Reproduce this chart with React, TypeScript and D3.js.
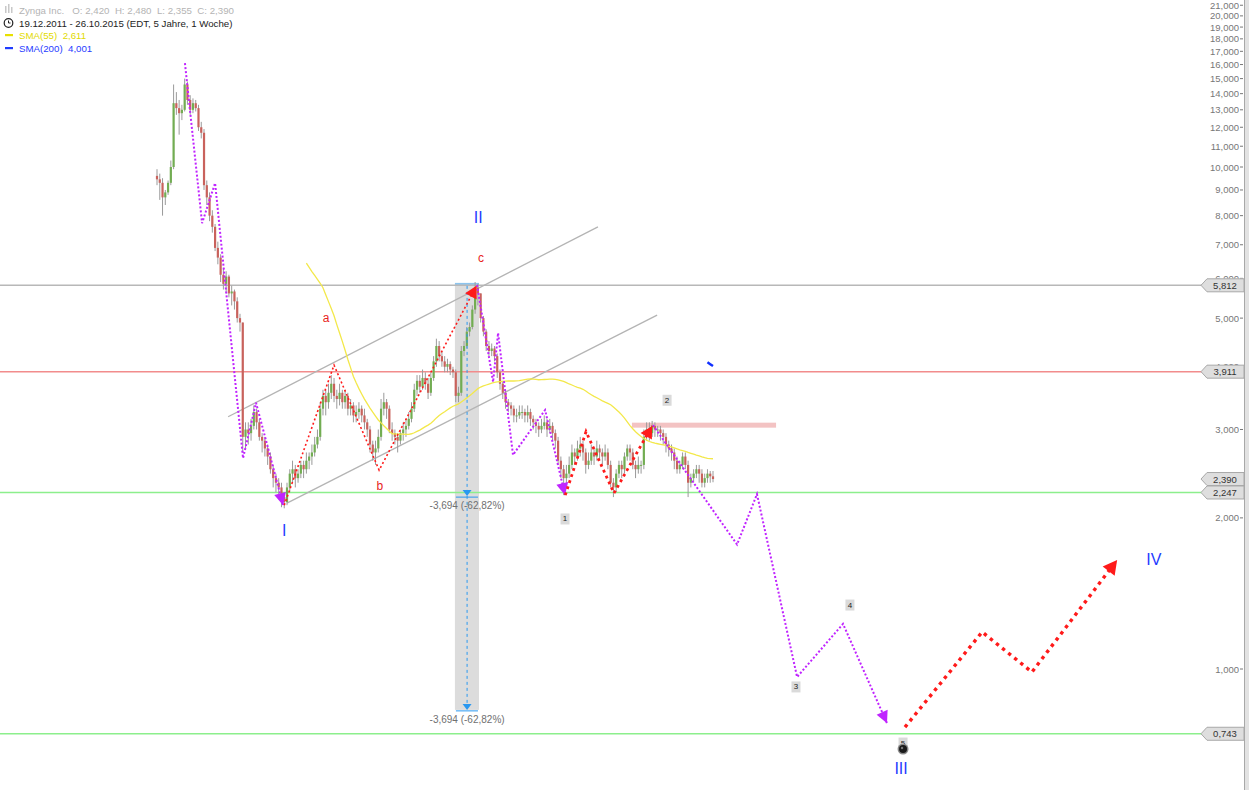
import React from "react";
import * as d3 from "d3";

// weekly candles [high, low, close]; open = previous close
const firstOpen = 9.6;
const candles2012: number[][] = [
  [9.9, 9.2, 9.45], [9.7, 8.6, 9.3], [9.5, 8.0, 8.7], [9.0, 8.4, 8.9], [9.4, 8.8, 9.3],
  [10.3, 9.2, 10.0], [14.6, 9.9, 13.4], [14.1, 12.7, 13.1], [13.6, 11.6, 12.8], [13.3, 12.4, 13.0],
  [15.0, 12.9, 14.6], [14.8, 13.3, 13.6], [13.9, 12.7, 13.0], [13.7, 12.8, 13.4], [13.6, 12.9, 13.1],
  [13.3, 11.8, 12.0], [12.3, 11.4, 11.7], [11.9, 9.0, 9.2], [9.4, 8.4, 8.7], [8.9, 7.8, 8.0],
  [8.2, 7.4, 7.6], [7.7, 6.8, 6.9], [7.1, 6.4, 6.6], [6.7, 5.9, 6.1], [6.3, 5.7, 5.85],
  [6.2, 5.6, 6.05], [6.1, 5.5, 5.6], [5.8, 5.3, 5.65], [5.7, 5.2, 5.4], [5.5, 4.9, 5.0],
  [5.1, 4.7, 4.9], [4.9, 2.7, 2.9], [3.1, 2.75, 3.0], [3.1, 2.8, 2.95], [3.15, 2.85, 3.05],
  [3.35, 3.0, 3.25], [3.3, 3.0, 3.1], [3.15, 2.85, 2.9], [2.95, 2.7, 2.85], [2.9, 2.65, 2.75],
  [2.8, 2.55, 2.65], [2.7, 2.45, 2.5], [2.55, 2.3, 2.4], [2.45, 2.25, 2.35], [2.4, 2.2, 2.3],
  [2.35, 2.1, 2.2], [2.25, 2.09, 2.15], [2.35, 2.12, 2.3], [2.5, 2.25, 2.45], [2.6, 2.35, 2.5],
  [2.55, 2.3, 2.4], [2.5, 2.35, 2.45], [2.6, 2.4, 2.55], [2.6, 2.4, 2.5], [2.7, 2.45, 2.6],
];
const candles2013: number[][] = [
  [2.7, 2.5, 2.65], [2.8, 2.55, 2.7], [2.9, 2.65, 2.8], [3.0, 2.75, 2.9], [3.4, 2.85, 3.3],
  [3.6, 3.2, 3.5], [3.6, 3.2, 3.4], [3.7, 3.3, 3.55], [3.85, 3.45, 3.7], [3.8, 3.4, 3.5],
  [3.6, 3.3, 3.45], [3.7, 3.35, 3.55], [3.6, 3.3, 3.4], [3.6, 3.3, 3.5], [3.55, 3.2, 3.3],
  [3.45, 3.2, 3.35], [3.4, 3.1, 3.2], [3.35, 3.1, 3.25], [3.4, 3.15, 3.3], [3.35, 3.1, 3.2],
  [3.3, 3.0, 3.1], [3.15, 2.9, 3.0], [3.05, 2.7, 2.8], [2.85, 2.6, 2.7], [2.85, 2.55, 2.75],
  [3.0, 2.7, 2.9], [3.45, 2.85, 3.3], [3.55, 3.2, 3.4], [3.45, 3.15, 3.3], [3.35, 2.95, 3.0],
  [3.1, 2.85, 2.95], [3.0, 2.8, 2.9], [2.95, 2.7, 2.85], [3.0, 2.8, 2.95], [3.1, 2.85, 3.0],
  [3.15, 2.9, 3.05], [3.25, 3.0, 3.15], [3.4, 3.1, 3.3], [3.7, 3.25, 3.6], [3.85, 3.5, 3.75],
  [3.85, 3.55, 3.65], [3.95, 3.6, 3.8], [3.9, 3.6, 3.7], [3.8, 3.45, 3.55], [3.9, 3.5, 3.8],
  [4.2, 3.75, 4.1], [4.55, 4.0, 4.4], [4.5, 4.1, 4.2], [4.3, 4.0, 4.1], [4.2, 3.9, 4.0],
  [4.15, 3.9, 4.05], [4.1, 3.85, 3.95],
];
const candles2014: number[][] = [
  [4.0, 3.8, 3.9], [3.95, 3.4, 3.5], [3.65, 3.4, 3.55], [4.4, 3.5, 4.3], [4.5, 4.2, 4.4],
  [4.8, 4.35, 4.7], [4.9, 4.6, 4.8], [5.3, 4.75, 5.2], [5.9, 5.1, 5.75], [5.85, 5.3, 5.6],
  [5.6, 4.9, 5.0], [5.05, 4.6, 4.7], [4.75, 4.3, 4.4], [4.5, 4.2, 4.3], [4.45, 4.2, 4.35],
  [4.4, 4.1, 4.2], [4.25, 3.8, 3.9], [3.95, 3.6, 3.7], [3.75, 3.45, 3.55], [3.6, 3.3, 3.4],
  [3.45, 3.25, 3.35], [3.4, 3.2, 3.3], [3.35, 3.1, 3.2], [3.3, 3.1, 3.2], [3.35, 3.15, 3.25],
  [3.35, 3.15, 3.25], [3.3, 3.1, 3.2], [3.35, 3.1, 3.25], [3.3, 3.05, 3.15], [3.2, 3.0, 3.1],
  [3.15, 2.95, 3.05], [3.1, 2.9, 3.0], [3.15, 2.95, 3.05], [3.2, 3.0, 3.1], [3.15, 2.9, 3.0],
  [3.15, 2.95, 3.05], [3.1, 2.85, 2.95], [3.0, 2.75, 2.85], [2.9, 2.55, 2.6], [2.65, 2.4, 2.5],
  [2.55, 2.22, 2.4], [2.55, 2.3, 2.45], [2.65, 2.4, 2.55], [2.8, 2.5, 2.7], [2.75, 2.55, 2.65],
  [2.85, 2.6, 2.75], [2.9, 2.65, 2.8], [2.85, 2.6, 2.7], [2.75, 2.45, 2.55], [2.7, 2.5, 2.6],
  [2.8, 2.55, 2.7], [2.75, 2.55, 2.65],
];
const candles2015: number[][] = [
  [2.85, 2.6, 2.75], [2.8, 2.6, 2.7], [2.75, 2.55, 2.65], [2.8, 2.6, 2.7], [2.75, 2.5, 2.55],
  [2.6, 2.3, 2.35], [2.4, 2.2, 2.3], [2.5, 2.25, 2.45], [2.6, 2.4, 2.55], [2.6, 2.4, 2.5],
  [2.7, 2.45, 2.65], [2.8, 2.6, 2.75], [2.8, 2.6, 2.7], [2.75, 2.5, 2.55], [2.6, 2.4, 2.5],
  [2.65, 2.45, 2.55], [2.6, 2.45, 2.55], [3.0, 2.5, 2.9], [3.1, 2.85, 3.0], [3.1, 2.85, 2.95],
  [3.12, 2.9, 3.05], [3.1, 2.9, 3.0], [3.05, 2.9, 3.0], [3.05, 2.85, 2.95], [3.0, 2.8, 2.9],
  [2.95, 2.7, 2.8], [2.85, 2.65, 2.75], [2.8, 2.6, 2.7], [2.75, 2.5, 2.6], [2.65, 2.45, 2.5],
  [2.6, 2.45, 2.55], [2.7, 2.5, 2.65], [2.7, 2.5, 2.55], [2.6, 2.2, 2.35], [2.45, 2.3, 2.4],
  [2.5, 2.35, 2.45], [2.55, 2.4, 2.5], [2.55, 2.35, 2.45], [2.5, 2.3, 2.35], [2.45, 2.3, 2.4],
  [2.5, 2.35, 2.45], [2.48, 2.35, 2.42], [2.48, 2.355, 2.39],
];

// wave drawings: [week index, price]
const wavePurple1 = [[10.1, 16.1], [16.3, 7.73], [21.0, 9.29], [31.1, 2.63], [35.8, 3.39], [45.6, 2.12]];
const waveRedABC = [[46.0, 2.12], [64.0, 4.03], [80.3, 2.49], [115.5, 5.8]];
const wavePurple2 = [[115.7, 5.82], [121.5, 3.73], [123.3, 4.67], [128.7, 2.67], [140.3, 3.28], [147.5, 2.22]];
const waveRed12 = [[147.6, 2.22], [155.1, 2.97], [165.2, 2.24], [179.0, 3.05]];
const wavePurple3 = [[179.3, 3.06], [209.7, 1.77], [216.9, 2.23], [231.4, 0.964], [248.0, 1.23], [263.9, 0.78]];
const waveRedFuture = [[270.4, 0.766], [298.3, 1.185], [316.3, 0.986], [347.1, 1.649]];
const channelUpper = [[25.7, 3.18], [159.4, 7.6]];
const channelLower = [[47.0, 2.14], [180.8, 5.07]];
const resistanceZone = { from: 171.7, to: 223.8, price: 3.06 };
const measureBand = { from: 107.7, to: 116.4, mid: 112.1, top: 5.85, arrow1: 2.21, arrow2: 0.829 };
const measureText = "-3,694 (-62,82%)";

const levelLines = [
  { v: 5.812, color: "#b8b8b8" },
  { v: 3.911, color: "#f28c8c" },
  { v: 2.247, color: "#8cef8c" },
  { v: 0.743, color: "#8cef8c" },
];
const priceFlags = [5.812, 3.911, 2.39, 2.247, 0.743];
const axisTicks = [1, 2, 3, 4, 5, 6, 7, 8, 9, 10, 11, 12, 13, 14, 15, 16, 17, 18, 19, 20, 21];

const waveLabelsBlue = [
  { t: "I", i: 46.0, v: 1.89 },
  { t: "II", i: 116.1, v: 7.95 },
  { t: "III", i: 269.0, v: 0.635 },
  { t: "IV", i: 360.4, v: 1.655 },
];
const waveLabelsRed = [
  { t: "a", i: 61.1, v: 5.0 },
  { t: "b", i: 80.6, v: 2.315 },
  { t: "c", i: 117.1, v: 6.58 },
];
const boxLabels = [
  { t: "1", i: 147.5, v: 1.99 },
  { t: "2", i: 184.4, v: 3.43 },
  { t: "3", i: 231.0, v: 0.921 },
  { t: "4", i: 250.5, v: 1.341 },
  { t: "5", i: 269.7, v: 0.712 },
];

const W = 1249;
const H = 790;
const FONT = "'Liberation Sans', Arial, Helvetica, sans-serif";
const FLAG_HALF = 6.5;

const x = d3.scaleLinear().domain([0, 201]).range([157, 713]);
const y = d3.scaleLog().domain([1, 10]).range([669, 167]);
const fmt = (v: number) => d3.format(".3f")(v).replace(".", ",");

const line = d3
  .line<number[]>()
  .x((d) => x(d[0]))
  .y((d) => y(d[1]));

function arrowHead(pts: number[][], size: number, half: number, color: string, key: string) {
  const a = pts[pts.length - 2];
  const b = pts[pts.length - 1];
  const ax = x(a[0]), ay = y(a[1]), bx = x(b[0]), by = y(b[1]);
  const len = Math.hypot(bx - ax, by - ay);
  const ux = (bx - ax) / len, uy = (by - ay) / len;
  const nx = -uy, ny = ux;
  const baseX = bx - ux * size, baseY = by - uy * size;
  const p = [
    [bx, by],
    [baseX + nx * half, baseY + ny * half],
    [baseX - nx * half, baseY - ny * half],
  ];
  return <polygon key={key} points={p.map((q) => q.join(",")).join(" ")} fill={color} />;
}

export default function App() {
  const all = [...candles2012, ...candles2013, ...candles2014, ...candles2015];
  const candles = all.map((c, i) => ({
    i,
    o: i === 0 ? firstOpen : all[i - 1][2],
    h: c[0],
    l: c[1],
    c: c[2],
  }));
  const closes = candles.map((c) => c.c);
  const sma = (n: number) => {
    const out: number[][] = [];
    for (let i = n - 1; i < closes.length; i++) {
      out.push([i, d3.mean(closes.slice(i - n + 1, i + 1)) as number]);
    }
    return out;
  };
  const sma55 = sma(55);
  const sma200 = sma(200);
  const purple = "#c024ff";
  const red = "#ff1a1a";
  const blue = "#1f3cff";

  // tick labels partly hidden behind price flags: clip at the flag's top edge
  const flagFor = (t: number) =>
    priceFlags.find((v) => Math.abs(y(v) - y(t)) < FLAG_HALF + 6);

  return (
    <svg
      width={W}
      height={H}
      style={{ position: "absolute", left: 0, top: 0, background: "#fff" }}
      fontFamily={FONT}
    >
      <defs>
        {axisTicks.map((t) => {
          const f = flagFor(t);
          if (!f) return null;
          return (
            <clipPath key={t} id={"tc" + t}>
              <rect x={1190} y={y(t) - 10} width={55} height={Math.max(0, y(f) - FLAG_HALF - (y(t) - 10))} />
            </clipPath>
          );
        })}
      </defs>
      <rect x={0} y={0} width={W} height={H} fill="#fff" />

      {/* measure band */}
      <rect
        x={x(measureBand.from)}
        y={y(measureBand.top)}
        width={x(measureBand.to) - x(measureBand.from)}
        height={y(measureBand.arrow2) - y(measureBand.top)}
        fill="#dcdcdc"
      />
      <line
        x1={x(measureBand.from)}
        x2={x(measureBand.to)}
        y1={y(measureBand.top)}
        y2={y(measureBand.top)}
        stroke="#8cc4ee"
        strokeWidth={2}
      />

      {/* level lines */}
      {levelLines.map((l, k) => (
        <line key={k} x1={0} x2={1202} y1={y(l.v)} y2={y(l.v)} stroke={l.color} strokeWidth={1.5} />
      ))}

      {/* resistance zone */}
      <rect
        x={x(resistanceZone.from)}
        y={y(resistanceZone.price) - 2.5}
        width={x(resistanceZone.to) - x(resistanceZone.from)}
        height={5}
        fill="#f3c3c3"
      />

      {/* channel */}
      <path d={line(channelUpper) as string} stroke="#b4b4b4" strokeWidth={1.3} fill="none" />
      <path d={line(channelLower) as string} stroke="#b4b4b4" strokeWidth={1.3} fill="none" />

      {/* candles */}
      {candles.map((c) => {
        const cx = x(c.i);
        const up = c.c >= c.o;
        const top = y(Math.max(c.o, c.c));
        const bot = y(Math.min(c.o, c.c));
        return (
          <g key={c.i}>
            <line x1={cx} x2={cx} y1={y(c.h)} y2={y(c.l)} stroke="#9a9a9a" strokeWidth={1} />
            <rect
              x={cx - 1.1}
              y={top}
              width={2.2}
              height={Math.max(1, bot - top)}
              fill={up ? "#72ad52" : "#c9625c"}
            />
          </g>
        );
      })}

      {/* SMA lines */}
      <path d={line(sma55) as string} stroke="#f3e84a" strokeWidth={1.3} fill="none" />
      <path d={line(sma200) as string} stroke="#1030ff" strokeWidth={2.5} fill="none" />

      {/* measure dashed line and arrows */}
      <line
        x1={x(measureBand.mid)}
        x2={x(measureBand.mid)}
        y1={y(measureBand.top) + 2}
        y2={y(measureBand.arrow2) - 2}
        stroke="#2a98f0"
        strokeWidth={1}
        strokeDasharray="3,3"
      />
      {[measureBand.arrow1, measureBand.arrow2].map((v, k) => (
        <g key={k}>
          <polygon
            points={`${x(measureBand.mid) - 4.5},${y(v) - 6} ${x(measureBand.mid) + 4.5},${y(v) - 6} ${x(measureBand.mid)},${y(v)}`}
            fill="#2a98f0"
          />
          <line
            x1={x(measureBand.from) + 1}
            x2={x(measureBand.to) - 1}
            y1={y(v) + 1}
            y2={y(v) + 1}
            stroke="#2a98f0"
            strokeWidth={1}
          />
          <text x={x(measureBand.mid)} y={y(v) + 13} textAnchor="middle" fontSize={10} fill="#707070">
            {measureText}
          </text>
        </g>
      ))}

      {/* waves */}
      {[wavePurple1, wavePurple2, wavePurple3].map((w, k) => (
        <g key={"p" + k}>
          <path d={line(w) as string} stroke={purple} strokeWidth={2} strokeDasharray="2,2" fill="none" />
          {arrowHead(w, 12, 6, purple, "pa" + k)}
        </g>
      ))}
      <path d={line(waveRedABC) as string} stroke={red} strokeWidth={1.6} strokeDasharray="2,2.5" fill="none" />
      {arrowHead(waveRedABC, 12, 6.5, red, "ra")}
      <path d={line(waveRed12) as string} stroke={red} strokeWidth={2.8} strokeDasharray="2.8,3.6" fill="none" />
      {arrowHead(waveRed12, 12, 6.5, red, "rb")}
      <path d={line(waveRedFuture) as string} stroke={red} strokeWidth={3.4} strokeDasharray="3.4,4.4" fill="none" />
      {arrowHead(waveRedFuture, 14, 7.5, red, "rc")}

      {/* labels */}
      {waveLabelsBlue.map((l) => (
        <text key={l.t} x={x(l.i)} y={y(l.v)} textAnchor="middle" dominantBaseline="central" fontSize={16} fill={blue}>
          {l.t}
        </text>
      ))}
      {waveLabelsRed.map((l) => (
        <text key={l.t} x={x(l.i)} y={y(l.v)} textAnchor="middle" dominantBaseline="central" fontSize={12} fill="#e8231c">
          {l.t}
        </text>
      ))}
      {boxLabels.map((l) => (
        <g key={l.t}>
          <rect x={x(l.i) - 4.5} y={y(l.v) - 5.5} width={9} height={11} fill="#dadada" />
          <text x={x(l.i)} y={y(l.v)} textAnchor="middle" dominantBaseline="central" fontSize={8} fill="#222">
            {l.t}
          </text>
          {l.t === "5" && (
            <g>
              <circle cx={x(l.i)} cy={y(l.v) + 6} r={5.5} fill="#8a8a8a" />
              <circle cx={x(l.i)} cy={y(l.v) + 6} r={4} fill="#1a1a1a" />
              <circle cx={x(l.i) - 1} cy={y(l.v) + 5} r={1.2} fill="#777" />
            </g>
          )}
        </g>
      ))}

      {/* right axis */}
      <rect x={1245} y={0} width={4} height={H} fill="#e2e2e2" />
      <line x1={1244.5} x2={1244.5} y1={0} y2={H} stroke="#a8a8a8" strokeWidth={1} />
      {axisTicks.map((t) => {
        const f = flagFor(t);
        return (
          <g key={t} clipPath={f ? `url(#tc${t})` : undefined}>
            <line x1={1240} x2={1243} y1={y(t)} y2={y(t)} stroke="#777" strokeWidth={1} />
            <text x={1239} y={y(t)} textAnchor="end" dominantBaseline="central" fontSize={9.5} fill="#777">
              {fmt(t)}
            </text>
          </g>
        );
      })}
      {priceFlags.map((v) => {
        const cy = y(v);
        const pts = `1201,${cy} 1207,${cy - FLAG_HALF} 1244,${cy - FLAG_HALF} 1244,${cy + FLAG_HALF} 1207,${cy + FLAG_HALF}`;
        return (
          <g key={v}>
            <polygon points={pts} fill="#dedede" stroke="#a8a8a8" strokeWidth={1} />
            <text x={1225} y={cy} textAnchor="middle" dominantBaseline="central" fontSize={9.5} fill="#333">
              {fmt(v)}
            </text>
          </g>
        );
      })}

      {/* header */}
      <g>
        <rect x={5} y={6} width={1.5} height={7} fill="#c8c8c8" />
        <rect x={8} y={4} width={1.5} height={9} fill="#c8c8c8" />
        <rect x={11} y={7} width={1.5} height={6} fill="#c8c8c8" />
        <text x={19} y={10} dominantBaseline="central" fontSize={9.7} fill="#b4b4b4">
          Zynga Inc.{"\u00a0\u00a0\u00a0"}O: 2,420{"\u00a0\u00a0"}H: 2,480{"\u00a0\u00a0"}L: 2,355{"\u00a0\u00a0"}C: 2,390
        </text>
        <circle cx={8.5} cy={23} r={4.3} fill="none" stroke="#222" strokeWidth={1.2} />
        <path d="M8.5 20.5 V23 H10.5" stroke="#222" strokeWidth={1} fill="none" />
        <text x={19} y={23} dominantBaseline="central" fontSize={9.7} fill="#222">
          19.12.2011 - 26.10.2015 (EDT, 5 Jahre, 1 Woche)
        </text>
        <rect x={5} y={34} width={8} height={2.2} fill="#e8e000" />
        <text x={19} y={35.5} dominantBaseline="central" fontSize={9.7} fill="#e2da00">
          SMA(55){"\u00a0\u00a0"}2,611
        </text>
        <rect x={5} y={47} width={8} height={2.2} fill={blue} />
        <text x={19} y={48.5} dominantBaseline="central" fontSize={9.7} fill={blue}>
          SMA(200){"\u00a0\u00a0"}4,001
        </text>
      </g>
    </svg>
  );
}
